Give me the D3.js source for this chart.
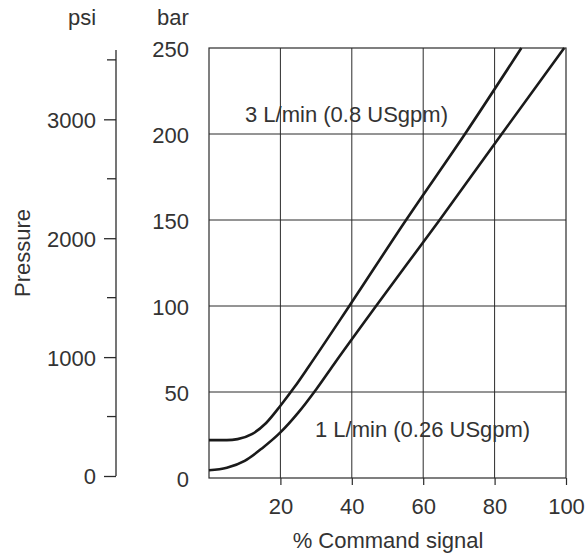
<!DOCTYPE html>
<html>
<head>
<meta charset="utf-8">
<script src="https://cdn.jsdelivr.net/npm/d3@7"></script>
<style>
  body { margin: 0; background: #fff; }
  svg { display: block; font-family: "Liberation Sans", Arial, sans-serif; }
  text { fill: #333; }
</style>
</head>
<body>
<svg width="585" height="559"></svg>
<script>
// % command signal vs pressure (bar)
const flow3Signal = [0, 5, 8, 12, 16, 20, 24, 28, 39.3, 55.2, 71.7, 87.5];
const flow3Bar    = [22, 22, 22.6, 25.5, 32, 42, 53, 65, 100, 150, 200, 250];
const flow1Signal = [0, 5, 10, 15, 20, 25, 30, 35, 46.8, 64.6, 82, 99.5];
const flow1Bar    = [4.5, 6, 10, 17.5, 26.5, 38, 51.5, 66.2, 100, 150, 200, 250];

const xTicks = [20, 40, 60, 80, 100];
const barTicks = [0, 50, 100, 150, 200, 250];
const psiMajor = [0, 1000, 2000, 3000];
const psiMinor = [500, 1500, 2500, 3500];
const labels = ["3 L/min (0.8 USgpm)", "1 L/min (0.26 USgpm)"];

const svg = d3.select("svg"),
    plotLeft = 209, plotRight = 566, plotTop = 48, plotBottom = 478,
    fontSize = 22;

const x = d3.scaleLinear().domain([0, 100]).range([plotLeft, plotRight]);
const y = d3.scaleLinear().domain([0, 250]).range([plotBottom, plotTop]);
const psi = d3.scaleLinear().domain([0, 3583]).range([476, 50]);

const ink = "#2b2b2b";

// grid
svg.append("g")
    .selectAll("line")
    .data(xTicks.slice(0, -1))
    .enter().append("line")
    .attr("x1", d => x(d)).attr("x2", d => x(d))
    .attr("y1", plotTop).attr("y2", plotBottom)
    .attr("stroke", ink).attr("stroke-width", 1);

svg.append("g")
    .selectAll("line")
    .data(barTicks.slice(1, -1))
    .enter().append("line")
    .attr("x1", plotLeft).attr("x2", plotRight)
    .attr("y1", d => y(d)).attr("y2", d => y(d))
    .attr("stroke", ink).attr("stroke-width", 1);

svg.append("rect")
    .attr("x", plotLeft).attr("y", plotTop)
    .attr("width", plotRight - plotLeft).attr("height", plotBottom - plotTop)
    .attr("fill", "none").attr("stroke", ink).attr("stroke-width", 1.2);

// x axis
const axisX = svg.append("g")
    .attr("transform", `translate(0, ${plotBottom})`)
    .call(d3.axisBottom(x).tickValues(xTicks).tickSize(7).tickPadding(13));
axisX.select(".domain").remove();
axisX.selectAll("line").attr("stroke", ink).attr("stroke-width", 1.2);
axisX.selectAll("text")
    .attr("font-size", fontSize).attr("font-family", "Liberation Sans, Arial, sans-serif")
    .style("fill", "#333");

// bar axis labels
const axisBar = svg.append("g")
    .attr("transform", `translate(${plotLeft}, 0)`)
    .call(d3.axisLeft(y).tickValues(barTicks).tickSize(0).tickPadding(20));
axisBar.select(".domain").remove();
axisBar.selectAll("text")
    .attr("font-size", fontSize).attr("font-family", "Liberation Sans, Arial, sans-serif")
    .attr("dy", "0.4em")
    .style("fill", "#333");

// psi axis
const psiX = 116;
svg.append("line")
    .attr("x1", psiX).attr("x2", psiX)
    .attr("y1", psi.range()[1]).attr("y2", psi(0))
    .attr("stroke", ink).attr("stroke-width", 1.3);

const axisPsi = svg.append("g")
    .attr("transform", `translate(${psiX}, 0)`)
    .call(d3.axisLeft(psi).tickValues(psiMajor).tickFormat(d3.format("d")).tickSize(12).tickPadding(8));
axisPsi.select(".domain").remove();
axisPsi.selectAll("line").attr("stroke", ink).attr("stroke-width", 1.3);
axisPsi.selectAll("text")
    .attr("font-size", fontSize).attr("font-family", "Liberation Sans, Arial, sans-serif")
    .attr("dy", "0.36em")
    .style("fill", "#333");

svg.append("g")
    .selectAll("line")
    .data(psiMinor)
    .enter().append("line")
    .attr("x1", psiX - 9).attr("x2", psiX)
    .attr("y1", d => psi(d)).attr("y2", d => psi(d))
    .attr("stroke", ink).attr("stroke-width", 1.3);

// curves
const line = d3.line()
    .x(d => x(d[0]))
    .y(d => y(d[1]))
    .curve(d3.curveMonotoneX);

[[flow3Signal, flow3Bar], [flow1Signal, flow1Bar]].forEach(([sx, sy]) => {
    svg.append("path")
        .datum(sx.map((v, i) => [v, sy[i]]))
        .attr("d", line)
        .attr("fill", "none")
        .attr("stroke", "#1a1a1a")
        .attr("stroke-width", 2.6);
});

// texts
svg.append("text").attr("x", 245).attr("y", 122)
    .attr("font-size", fontSize).text(labels[0]);
svg.append("text").attr("x", 315).attr("y", 437)
    .attr("font-size", fontSize).text(labels[1]);

svg.append("text").attr("x", 82).attr("y", 25)
    .attr("text-anchor", "middle").attr("font-size", fontSize).text("psi");
svg.append("text").attr("x", 173).attr("y", 25)
    .attr("text-anchor", "middle").attr("font-size", fontSize).text("bar");
svg.append("text")
    .attr("transform", "translate(30, 253) rotate(-90)")
    .attr("text-anchor", "middle").attr("font-size", fontSize).text("Pressure");
svg.append("text").attr("x", 388).attr("y", 548)
    .attr("text-anchor", "middle").attr("font-size", fontSize).text("% Command signal");
</script>
</body>
</html>
